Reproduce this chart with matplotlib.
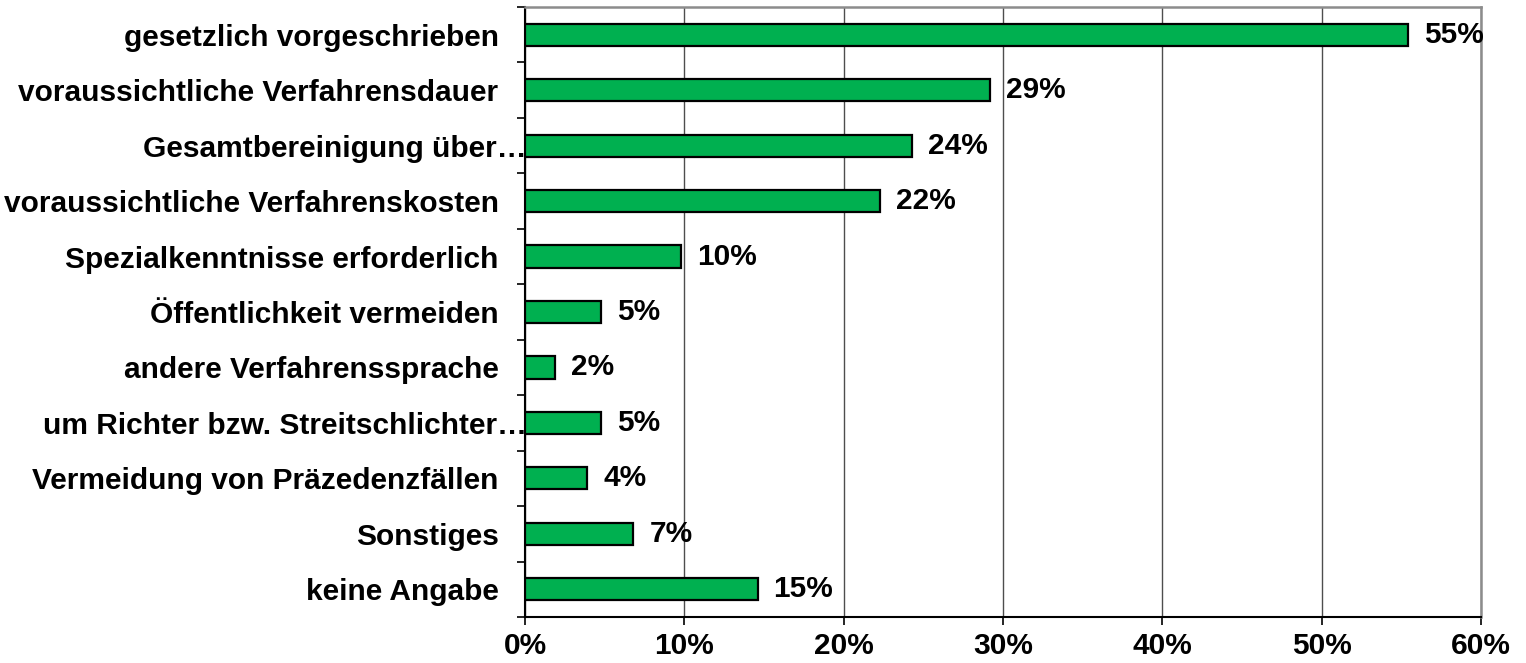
import matplotlib.pyplot as plt
import matplotlib.transforms as mtransforms
from matplotlib.ticker import FuncFormatter

# Data
categories = ['gesetzlich vorgeschrieben',
              'voraussichtliche Verfahrensdauer',
              'Gesamtbereinigung über…',
              'voraussichtliche Verfahrenskosten',
              'Spezialkenntnisse erforderlich',
              'Öffentlichkeit vermeiden',
              'andere Verfahrenssprache',
              'um Richter bzw. Streitschlichter…',
              'Vermeidung von Präzedenzfällen',
              'Sonstiges',
              'keine Angabe']
values = [55.4, 29.2, 24.3, 22.3, 9.8, 4.8, 1.9, 4.8, 3.9, 6.8, 14.6]
value_labels = ['55%', '29%', '24%', '22%', '10%', '5%', '2%', '5%', '4%', '7%', '15%']
xticks = [0, 10, 20, 30, 40, 50, 60]

plt.rcParams['font.family'] = ['Liberation Sans', 'DejaVu Sans']
plt.rcParams['font.weight'] = 'bold'
fs = 21.5

fig = plt.figure(figsize=(15.26, 6.63), dpi=100)
ax = fig.add_axes([525 / 1526, 1 - 617 / 663, 956 / 1526, 610 / 663])

y = list(range(len(categories)))
ax.barh(y, values, height=0.4, color='#00B050', edgecolor='black', linewidth=1.6, zorder=3)

for yi, v, lab in zip(y, values, value_labels):
    ax.text(v + 1.0, yi, lab, va='center', ha='left', fontsize=fs, fontweight='bold', zorder=4)

ax.set_xlim(0, 60)
ax.set_ylim(len(categories) - 0.5, -0.5)
ax.set_xticks(xticks)
ax.xaxis.set_major_formatter(FuncFormatter(lambda x, p: '{:.0f}%'.format(x)))
ax.set_yticks(y)
ax.set_yticklabels(categories)
ax.set_yticks([i - 0.5 for i in range(len(categories) + 1)], minor=True)

ax.tick_params(axis='y', which='major', length=0, pad=19, labelsize=fs)
ax.tick_params(axis='y', which='minor', length=6, width=1.2, direction='out')
ax.tick_params(axis='x', length=6, width=1.2, direction='out', labelsize=fs, pad=5)
for t in ax.get_xticklabels() + ax.get_yticklabels():
    t.set_fontweight('bold')

# truncated labels run up to the axis, like in the original
shift = mtransforms.ScaledTranslation(28 / 100, 0, fig.dpi_scale_trans)
for t in ax.get_yticklabels():
    if t.get_text().endswith('…'):
        t.set_transform(t.get_transform() + shift)

ax.grid(axis='x', color='#4d4d4d', linewidth=1.0, zorder=0)
ax.spines['left'].set_color('black')
ax.spines['bottom'].set_color('black')
ax.spines['left'].set_linewidth(1.5)
ax.spines['bottom'].set_linewidth(1.5)
ax.spines['top'].set_color('#8c8c8c')
ax.spines['right'].set_color('#8c8c8c')
ax.spines['top'].set_linewidth(1.8)
ax.spines['right'].set_linewidth(1.8)

plt.savefig('out.png', dpi=100)
